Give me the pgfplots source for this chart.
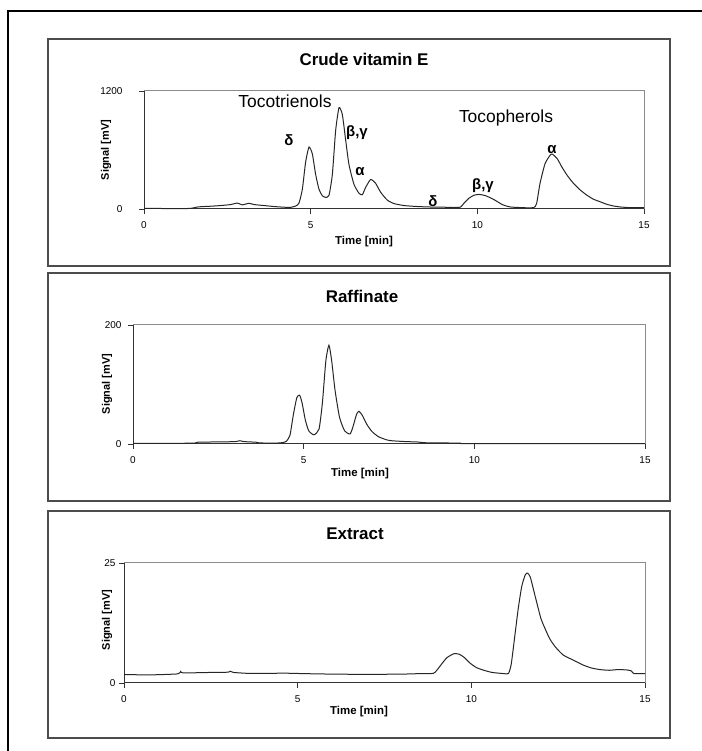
\documentclass[border=0pt]{standalone}
\usepackage{pgfplots}
\pgfplotsset{compat=1.18}
\usepackage{fontspec}
\setmainfont{Liberation Sans}

\pgfplotstableread{
t v
0 5
0.5 5
1.0 4
1.4 6
1.6 20
1.8 25
2.0 28
2.3 35
2.6 45
2.8 60
2.95 42
3.15 58
3.3 45
3.6 35
3.9 25
4.2 18
4.4 17
4.55 30
4.65 60
4.75 200
4.85 480
4.95 630
5.05 560
5.15 350
5.25 200
5.35 135
5.45 118
5.55 140
5.65 350
5.75 800
5.85 1030
5.95 960
6.05 700
6.15 450
6.3 250
6.45 160
6.55 145
6.65 220
6.8 300
6.95 260
7.1 170
7.3 90
7.5 55
7.8 35
8.2 25
8.6 20
9.0 18
9.3 15
9.5 20
9.6 60
9.75 110
9.9 140
10.05 148
10.25 135
10.5 95
10.75 45
11.0 20
11.5 12
11.7 15
11.78 58
11.88 260
12.03 460
12.18 545
12.25 558
12.4 510
12.53 430
12.7 340
12.88 262
13.08 195
13.28 142
13.48 100
13.68 74
13.88 48
14.08 31
14.3 20
14.58 14
15 15
}\crude

\pgfplotstableread{
t v
0 1
1.0 1
1.8 1.5
1.9 3
2.5 3.5
3.0 4
3.13 5.5
3.25 4
3.6 3
3.7 1.8
4.2 1.5
4.4 2.5
4.5 5
4.6 15
4.7 50
4.8 78
4.88 82
4.95 70
5.05 40
5.15 22
5.3 15.5
5.45 25
5.55 70
5.65 140
5.74 166
5.82 140
5.92 90
6.05 45
6.2 22
6.36 17
6.45 30
6.55 50
6.62 55
6.72 48
6.85 33
7.0 21
7.2 12
7.5 6
8.0 4
8.3 3.5
8.6 2
9.6 1.5
9.7 0.8
15 0.8
}\raff

\pgfplotstableread{
t v
0 1.75
0.8 1.7
1.55 1.9
1.63 2.4
1.7 2.1
2.5 2.2
3.0 2.25
3.07 2.45
3.15 2.2
3.6 2.0
4.17 2.0
4.6 2.05
5.2 1.95
6.0 1.85
7.0 1.8
8.0 1.85
8.5 1.95
8.9 2.0
9.0 2.6
9.15 4.0
9.3 5.3
9.5 6.1
9.65 6.0
9.8 5.3
9.97 4.1
10.15 3.2
10.36 2.65
10.6 2.2
10.94 1.95
11.07 2.0
11.15 4
11.26 10.3
11.35 15.5
11.45 20.1
11.55 22.5
11.62 22.9
11.7 22
11.84 18
12.0 13.5
12.1 11.7
12.25 9.3
12.42 7.5
12.65 5.8
12.94 4.75
13.2 3.8
13.45 3.14
13.7 2.8
13.97 2.65
14.23 2.8
14.5 2.7
14.61 2.5
14.68 1.95
15 1.95
}\extr

\pgfplotsset{
  chrom/.style={
    scale only axis,
    anchor=south west,
    xmin=0, xmax=15, ymin=0,
    xtick={0,5,10,15},
    axis line style={draw=none},
    tick align=outside,
    xtick pos=bottom, ytick pos=left,
    major tick length=5bp,
    tick style={black!80, line width=0.8bp},
    /pgf/number format/assume math mode=true,
    /pgf/number format/1000 sep={},
    ticklabel style={font=\fontsize{10}{12}\selectfont},
    xticklabel style={yshift=-4bp},
    clip=false,
  },
  curve/.style={black!85, line width=1bp, smooth, tension=0.35},
}
\newcommand{\spines}{%
  \draw[black!45, line width=1bp] (rel axis cs:0,1) -- (rel axis cs:1,1) -- (rel axis cs:1,0);
  \draw[black!80, line width=1bp] (rel axis cs:0,1) -- (rel axis cs:0,0) -- (rel axis cs:1,0);
}

\begin{document}
\begin{tikzpicture}[x=1bp,y=1bp]
\useasboundingbox (0,0) rectangle (702,751);
\fill[white] (0,0) rectangle (702,751);
% outer frame
\draw[black, line width=1.2bp] (8,0) -- (8,740) -- (702,740);
% panel boxes
\draw[black!70, line width=1.5bp] (48,712) rectangle (670,485);
\draw[black!70, line width=1.5bp] (48,478) rectangle (670,250);
\draw[black!70, line width=1.5bp] (48,240) rectangle (670,13);

% ---- Panel 1
\begin{axis}[chrom, at={(144bp,542bp)}, width=500bp, height=118bp,
  ymax=1200, ytick={0,1200}, yticklabel style={xshift=-13bp}]
  \spines
  \addplot[curve] table[x=t,y=v] {\crude};
\end{axis}
\node[font=\bfseries\fontsize{17}{20}\selectfont] at (364,692) {Crude vitamin E};
\node[font=\bfseries\fontsize{11}{13}\selectfont, rotate=90] at (106,601) {Signal [mV]};
\node[font=\bfseries\fontsize{11.5}{13}\selectfont] at (364,509) {Time [min]};
\node[font=\fontsize{17.5}{20}\selectfont, anchor=base] at (285,643.3) {Tocotrienols};
\node[font=\fontsize{17.5}{20}\selectfont, anchor=base] at (506,628.3) {Tocopherols};
\node[font=\bfseries\fontsize{15}{17}\selectfont] at (289,611) {δ};
\node[font=\bfseries\fontsize{15}{17}\selectfont] at (357,618) {β,γ};
\node[font=\bfseries\fontsize{15}{17}\selectfont] at (360,579) {α};
\node[font=\bfseries\fontsize{15}{17}\selectfont] at (433,550) {δ};
\node[font=\bfseries\fontsize{15}{17}\selectfont] at (483,565) {β,γ};
\node[font=\bfseries\fontsize{15}{17}\selectfont] at (552,601) {α};

% ---- Panel 2
\begin{axis}[chrom, at={(133bp,307bp)}, width=512bp, height=119bp,
  ymax=200, ytick={0,200}, yticklabel style={xshift=-3bp}]
  \spines
  \addplot[curve] table[x=t,y=v] {\raff};
\end{axis}
\node[font=\bfseries\fontsize{17}{20}\selectfont] at (362,454.5) {Raffinate};
\node[font=\bfseries\fontsize{11}{13}\selectfont, rotate=90] at (107,367) {Signal [mV]};
\node[font=\bfseries\fontsize{11.5}{13}\selectfont] at (360,277) {Time [min]};

% ---- Panel 3
\begin{axis}[chrom, at={(124bp,68bp)}, width=521bp, height=120bp,
  ymax=25, ytick={0,25}, yticklabel style={xshift=0bp}]
  \spines
  \addplot[curve] table[x=t,y=v] {\extr};
\end{axis}
\node[font=\bfseries\fontsize{17}{20}\selectfont] at (355,217) {Extract};
\node[font=\bfseries\fontsize{11}{13}\selectfont, rotate=90] at (107,131) {Signal [mV]};
\node[font=\bfseries\fontsize{11.5}{13}\selectfont] at (359,39) {Time [min]};
\end{tikzpicture}
\end{document}
